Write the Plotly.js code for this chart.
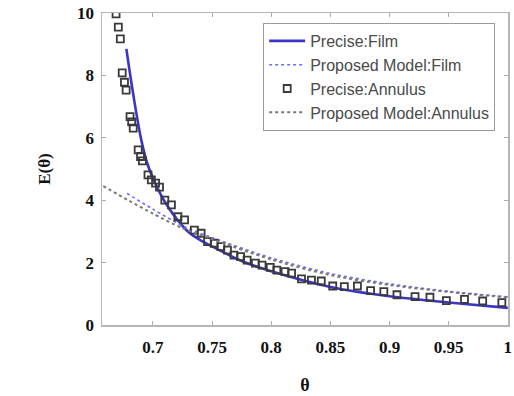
<!DOCTYPE html>
<html>
<head>
<meta charset="utf-8">
<script src="https://cdn.plot.ly/plotly-3.0.1.min.js"></script>
<style>
  html, body { margin: 0; padding: 0; background: #fff; }
  #chart { width: 514px; height: 396px; }
</style>
</head>
<body>
<div id="chart"></div>
<script>
// Precise solution, film
const filmTheta = [0.6775, 0.68, 0.685, 0.69, 0.695, 0.70, 0.705, 0.71, 0.72, 0.73, 0.74, 0.75, 0.775, 0.80, 0.85, 0.90, 0.95, 1.00];
const filmE     = [8.85, 8.20, 7.00, 5.95, 5.20, 4.70, 4.30, 3.95, 3.40, 2.98, 2.72, 2.52, 2.05, 1.72, 1.22, 0.92, 0.72, 0.55];

// Proposed model, film
const modelFilmTheta = [0.678, 0.70, 0.725, 0.75, 0.80, 0.85, 0.90, 0.95, 1.00];
const modelFilmE     = [4.22, 3.71, 3.18, 2.80, 2.15, 1.65, 1.32, 1.08, 0.90];

// Precise solution, annulus (sampled points)
const annulusTheta = [0.6688, 0.6707, 0.6724, 0.6740, 0.6759, 0.6773, 0.6806, 0.6820, 0.6833, 0.6875,
                      0.6895, 0.6911, 0.6958, 0.6986, 0.7022, 0.7055, 0.7100, 0.7156, 0.7211, 0.7267,
                      0.7350, 0.7407, 0.7462, 0.7518, 0.7574, 0.7630, 0.7685, 0.7741, 0.7796, 0.7866,
                      0.7922, 0.7992, 0.8047, 0.8117, 0.8172, 0.8256, 0.8340, 0.8423, 0.8520, 0.8618,
                      0.8729, 0.8840, 0.8952, 0.9063, 0.9216, 0.9342, 0.9481, 0.9634, 0.9788, 0.9950];
const annulusE     = [9.97, 9.55, 9.17, 8.08, 7.78, 7.53, 6.68, 6.51, 6.31, 5.61,
                      5.40, 5.26, 4.81, 4.65, 4.55, 4.42, 4.00, 3.85, 3.47, 3.37,
                      3.04, 2.94, 2.67, 2.62, 2.51, 2.40, 2.24, 2.19, 2.08, 1.98,
                      1.92, 1.85, 1.76, 1.71, 1.66, 1.48, 1.44, 1.41, 1.25, 1.23,
                      1.25, 1.10, 1.07, 0.97, 0.91, 0.89, 0.78, 0.82, 0.77, 0.72];

// Proposed model, annulus
const modelAnnTheta = [0.658, 0.68, 0.70, 0.725, 0.75, 0.80, 0.85, 0.90, 0.95, 1.00];
const modelAnnE     = [4.45, 3.98, 3.57, 3.10, 2.75, 2.10, 1.60, 1.28, 1.06, 0.88];

const xTicks = [0.7, 0.75, 0.8, 0.85, 0.9, 0.95, 1];
const xTickText = ['0.7', '0.75', '0.8', '0.85', '0.9', '0.95', '1'];
const yTicks = [0, 2, 4, 6, 8, 10];

const traces = [
  {
    name: 'Precise:Film', x: filmTheta, y: filmE, mode: 'lines',
    line: { color: '#3a35c8', width: 2.6, shape: 'spline', smoothing: 0.8 }
  },
  {
    name: 'Proposed Model:Film', x: modelFilmTheta, y: modelFilmE, mode: 'lines',
    line: { color: '#6f6cf0', width: 1.6, dash: 'dot', shape: 'spline', smoothing: 0.8 }
  },
  {
    name: 'Precise:Annulus', x: annulusTheta, y: annulusE, mode: 'markers',
    marker: { symbol: 'square-open', size: 7, color: '#3a3a3a', line: { width: 1.8 } }
  },
  {
    name: 'Proposed Model:Annulus', x: modelAnnTheta, y: modelAnnE, mode: 'lines',
    line: { color: '#777777', width: 2, dash: 'dot', shape: 'spline', smoothing: 0.8 }
  }
];

const serif = '"Liberation Serif", "Times New Roman", serif';

const layout = {
  width: 514, height: 396,
  margin: { l: 102, r: 6, t: 13, b: 71 },
  paper_bgcolor: '#fff', plot_bgcolor: '#fff',
  showlegend: true,
  legend: {
    x: 0.397, y: 0.968, xanchor: 'left', yanchor: 'top',
    bgcolor: '#fff', bordercolor: '#9a9a9a', borderwidth: 1,
    font: { family: '"Liberation Sans", Arial, sans-serif', size: 16, color: '#4a4a4a' },
    tracegroupgap: 0, itemwidth: 36
  },
  xaxis: {
    range: [0.6569, 1.0002], tickvals: xTicks, ticktext: xTickText,
    ticks: 'inside', ticklen: 4, tickcolor: '#aaa', tickwidth: 1,
    showline: true, linecolor: '#b5b5b5', linewidth: 1.5, mirror: 'ticks',
    showgrid: false, zeroline: false, ticklabeloverflow: 'allow',
    tickfont: { family: serif, size: 17, color: '#111', weight: 'bold' }, ticklabelstandoff: 6,
    title: { text: '<b>θ</b>', font: { family: serif, size: 18, color: '#111' }, standoff: 22 }
  },
  yaxis: {
    range: [0, 10], tickvals: yTicks,
    ticks: 'inside', ticklen: 4, tickcolor: '#aaa', tickwidth: 1,
    showline: true, linecolor: '#b5b5b5', linewidth: 1.5, mirror: 'ticks',
    showgrid: false, zeroline: false, ticklabeloverflow: 'allow',
    tickfont: { family: serif, size: 17, color: '#111', weight: 'bold' }, ticklabelstandoff: 3,
    title: { text: '<b>E(θ)</b>', font: { family: serif, size: 17, color: '#111' }, standoff: 22 }
  }
};

Plotly.newPlot('chart', traces, layout, { displayModeBar: false, staticPlot: true });
</script>
</body>
</html>
